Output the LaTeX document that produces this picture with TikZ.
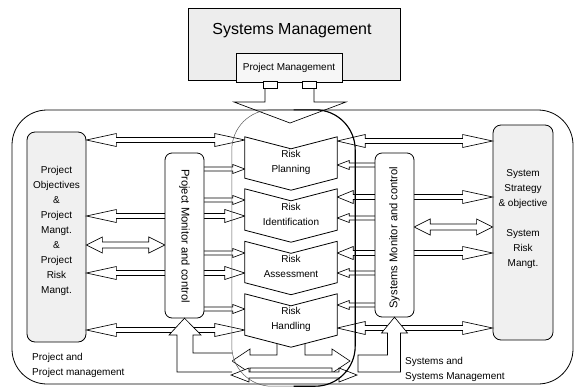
\documentclass[tikz,border=0pt]{standalone}
\usepackage{fontspec}
\setmainfont{Liberation Sans}
\usetikzlibrary{calc}
% double-headed hollow block arrow: #1 start, #2 end (x only), #3 shaft half, #4 head half, #5 start head length, #6 end head length
\newcommand\DArr[6]{\draw[arrline] let \p1=(#1), \p2=(#2), \n1={sign(\x2-\x1)} in
 (\x1,\y1) -- (\x1+\n1*#5,\y1+#4) -- (\x1+\n1*#5,\y1+#3) -- (\x2-\n1*#6,\y1+#3) -- (\x2-\n1*#6,\y1+#4) -- (\x2,\y1)
 -- (\x2-\n1*#6,\y1-#4) -- (\x2-\n1*#6,\y1-#3) -- (\x1+\n1*#5,\y1-#3) -- (\x1+\n1*#5,\y1-#4) -- cycle;}
% single-headed hollow block arrow: #1 start, #2 tip (x only), #3 shaft half, #4 head half, #5 head length
\newcommand\SArr[5]{\draw[arrline] let \p1=(#1), \p2=(#2), \n1={sign(\x2-\x1)} in
 (\x1,\y1+#3) -- (\x2-\n1*#5,\y1+#3) -- (\x2-\n1*#5,\y1+#4) -- (\x2,\y1) -- (\x2-\n1*#5,\y1-#4) -- (\x2-\n1*#5,\y1-#3) -- (\x1,\y1-#3);}
\newcommand\chevpath[1]{\draw[chev] (#1.north west) -- ($(#1.north)+(0,12)$) -- (#1.north east) -- (#1.south east) -- ($(#1.south)+(0,12)$) -- (#1.south west) -- cycle;}
\begin{document}
\begin{tikzpicture}[x=1pt,y=-1pt,line join=miter,
 txt/.style={font=\fontsize{10}{15}\selectfont, align=center, inner sep=0pt},
 arrline/.style={draw=black, fill=white, line width=0.65pt},
 box/.style={draw=black, line width=0.8pt, inner sep=0pt},
 sidebox/.style={box, rounded corners=8pt, fill=black!6},
 monbox/.style={box, rounded corners=7pt, fill=white},
 chev/.style={draw=black, line width=0.8pt, fill=white},
 montxt/.style={font=\fontsize{11.2}{13}\selectfont, inner sep=0pt},
 place/.style={inner sep=0pt, minimum width=92pt, minimum height=41pt}]
\useasboundingbox (0,0) rectangle (577,386);

% top boxes
\node[box, fill=black!7, minimum width=212pt, minimum height=72pt] (sysm) at (294,44) {};
\node[font=\fontsize{16}{19}\selectfont, inner sep=0pt] (sysmt) at (292,31) {Systems Management};
\node[box, fill=black!3, minimum width=106pt, minimum height=29pt] (pmg) at (289,67.5) {};
\node[txt] (pmgt) at (289,68) {Project Management};

% outer frame and core region
\node[box, rounded corners=35pt, minimum width=561pt, minimum height=274pt] (outer) at (292.5,247) {};
\node[inner sep=0pt, minimum width=123pt, minimum height=276pt] (core) at (293.5,248) {};

% side boxes
\node[sidebox, minimum width=59pt, minimum height=210pt] (lbox) at (56.5,237) {};
\node[txt] (lboxt) at (56.5,231) {Project\\Objectives\\\&\\Project\\Mangt.\\\&\\Project\\Risk\\Mangt.};
\node[sidebox, minimum width=60pt, minimum height=215pt] (rbox) at (523,232.5) {};
\node[txt] (rboxt) at (523,219) {System\\Strategy\\\& objective\\[15pt]System\\Risk\\Mangt.};

% chevron places
\node[place] (c1) at (291,157.5) {};
\node[place] (c2) at (291,209.5) {};
\node[place] (c3) at (291,262) {};
\node[place] (c4) at (291,314.5) {};

% monitor places
\node[inner sep=0pt, minimum width=39pt, minimum height=165pt] (pm) at (184.5,235.5) {};
\node[inner sep=0pt, minimum width=39pt, minimum height=164pt] (sm) at (394.5,235) {};

% left arrows
\DArr{lbox.east|-0,140}{c1.west}{2.5pt}{6.5pt}{30pt}{30pt}
\DArr{lbox.east|-0,216}{c2.west}{2.5pt}{6.5pt}{30pt}{20pt}
\DArr{lbox.east|-0,245}{pm.west}{3pt}{8pt}{16pt}{16pt}
\DArr{lbox.east|-0,273}{c3.west}{2.5pt}{6.5pt}{30pt}{20pt}
\DArr{lbox.east|-0,330}{c4.west}{2.5pt}{6.5pt}{30pt}{30pt}
\SArr{pm.east|-0,169}{c1.west}{2pt}{4.5pt}{12pt}
\SArr{pm.east|-0,200}{c2.west}{2pt}{4.5pt}{12pt}
\SArr{pm.east|-0,253}{c3.west}{2pt}{4.5pt}{12pt}
\SArr{pm.east|-0,309}{c4.west}{2pt}{4.5pt}{12pt}

% right arrows
\DArr{c1.east|-0,141}{rbox.west}{2.5pt}{6.5pt}{28pt}{30pt}
\DArr{c2.east|-0,197}{rbox.west}{2.5pt}{6.5pt}{16pt}{30pt}
\DArr{sm.east|-0,227}{rbox.west}{3pt}{8pt}{16pt}{16pt}
\DArr{c3.east|-0,253}{rbox.west}{2.5pt}{6.5pt}{16pt}{30pt}
\DArr{c4.east|-0,328}{rbox.west}{2.5pt}{6.5pt}{28pt}{30pt}
\SArr{sm.west|-0,165}{c1.east}{2pt}{4.5pt}{12pt}
\SArr{sm.west|-0,218}{c2.east}{2pt}{4.5pt}{12pt}
\SArr{sm.west|-0,273}{c3.east}{2pt}{4.5pt}{12pt}
\SArr{sm.west|-0,305}{c4.east}{2pt}{4.5pt}{12pt}

% split arrow below Risk Handling
\draw[arrline] (277,343.5) -- (277,355) -- (250,355) -- (250,349) -- (232,361) -- (250,373) -- (250,368)
 -- (332,368) -- (332,373) -- (350,361) -- (332,349) -- (332,355) -- (305,355) -- (305,343.5);
% bottom double arrow
\coordinate (bl) at (231,375);
\coordinate (br) at (357,375);
\DArr{bl}{br}{3pt}{7pt}{18pt}{18pt}

% monitors
\node[monbox, minimum width=39pt, minimum height=165pt] (pmb) at (pm) {};
\node[montxt, rotate=-90] (pmt) at (184.5,236) {Project Monitor and control};
\node[monbox, minimum width=39pt, minimum height=164pt] (smb) at (sm) {};
\node[montxt, rotate=90] (smt) at (394.5,237.5) {Systems Monitor and control};

% chevrons
\chevpath{c1}\chevpath{c2}\chevpath{c3}\chevpath{c4}
\node[txt] (c1t) at ($(c1)+(0,4.5)$) {Risk\\Planning};
\node[txt] (c2t) at ($(c2)+(0,5)$) {Risk\\Identification};
\node[txt] (c3t) at ($(c3)+(0,4.5)$) {Risk\\Assessment};
\node[txt] (c4t) at ($(c4)+(0,5)$) {Risk\\Handling};

% top arrow from Project Management
\draw[line width=0.65pt] (265,88) -- (265,102) -- (234,102) -- (290,123) -- (346,102) -- (314,102) -- (314,88);
\draw[line width=0.65pt, fill=white] (263,81) rectangle (277,88);
\draw[line width=0.65pt, fill=white] (302,81) rectangle (316,88);

% core outline
\draw[line width=0.5pt, draw=black!65, rounded corners=40pt] (core.north west) rectangle (core.south east);
\draw[line width=1.1pt, rounded corners=40pt] (core.north) -- (core.north east) -- (core.south east) -- (core.south);

% feedback pipes into the monitors
\draw[arrline] (232,353) -- (193,353) -- (193,335) -- (201,335) -- (pm.south) -- (169,335) -- (177,335) -- (177,372) -- (232,372);
\draw[arrline] (358,355) -- (387.5,355) -- (387.5,333) -- (381.5,333) -- (sm.south) -- (407.5,333) -- (400.5,333) -- (400.5,372) -- (358,372) -- cycle;

% labels
\node[txt, align=left, anchor=west] (plab) at (32,365.5) {Project and\\Project management};
\node[txt, align=left, anchor=west] (slab) at (405,369) {Systems and\\Systems Management};
\end{tikzpicture}
\end{document}
